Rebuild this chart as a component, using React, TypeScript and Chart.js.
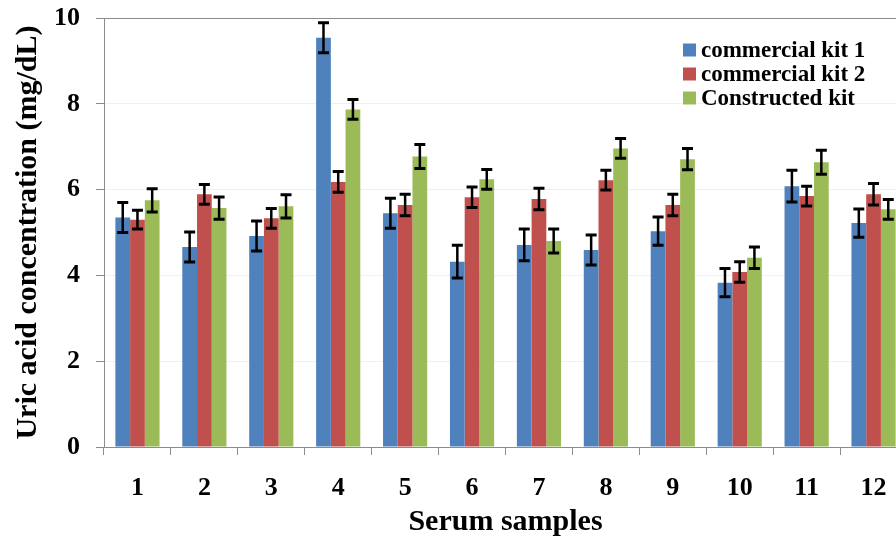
import React, { useEffect, useRef } from "react";
import { Chart, registerables } from "chart.js";

Chart.register(...registerables);

const categories = ["1", "2", "3", "4", "5", "6", "7", "8", "9", "10", "11", "12"];
const seriesNames = ["commercial kit 1", "commercial kit 2", "Constructed kit"];
const kit1 = [5.35, 4.66, 4.92, 9.54, 5.45, 4.32, 4.71, 4.59, 5.03, 3.83, 6.08, 5.22];
const kit2 = [5.3, 5.89, 5.33, 6.18, 5.64, 5.82, 5.78, 6.22, 5.64, 4.08, 5.85, 5.89];
const constructed = [5.75, 5.57, 5.61, 7.87, 6.77, 6.24, 4.8, 6.96, 6.71, 4.41, 6.64, 5.54];
const kit1Err = [0.35, 0.35, 0.35, 0.35, 0.35, 0.38, 0.37, 0.35, 0.33, 0.33, 0.37, 0.33];
const kit2Err = [0.22, 0.23, 0.23, 0.24, 0.25, 0.24, 0.25, 0.23, 0.25, 0.24, 0.23, 0.25];
const constructedErr = [0.27, 0.26, 0.27, 0.23, 0.28, 0.23, 0.28, 0.23, 0.25, 0.25, 0.28, 0.23];
const yTicks = [0, 2, 4, 6, 8, 10];
const xTitle = "Serum samples";
const yTitle = "Uric acid concentration (mg/dL)";

const colors = ["#4F81BD", "#C0504D", "#9BBB59"];
const FONT = "'Liberation Serif', 'Times New Roman', serif";

const errorBarPlugin = {
  id: "errorBars",
  afterDatasetsDraw(chart: any) {
    const { ctx } = chart;
    const yScale = chart.scales.y;
    chart.data.datasets.forEach((ds: any, i: number) => {
      const meta = chart.getDatasetMeta(i);
      const errs = ds.errors as number[];
      meta.data.forEach((bar: any, j: number) => {
        const v = ds.data[j];
        const e = errs[j];
        const x = bar.x;
        const yTop = yScale.getPixelForValue(v + e);
        const yBot = yScale.getPixelForValue(v - e);
        ctx.save();
        ctx.strokeStyle = "#000";
        ctx.lineWidth = 2.5;
        ctx.beginPath();
        ctx.moveTo(x, yTop);
        ctx.lineTo(x, yBot);
        ctx.stroke();
        ctx.lineWidth = 3;
        ctx.beginPath();
        ctx.moveTo(x - 5.5, yTop);
        ctx.lineTo(x + 5.5, yTop);
        ctx.moveTo(x - 5.5, yBot);
        ctx.lineTo(x + 5.5, yBot);
        ctx.stroke();
        ctx.restore();
      });
    });
  },
};

const legendPlugin = {
  id: "insideLegend",
  afterDraw(chart: any) {
    const { ctx } = chart;
    ctx.save();
    ctx.font = `bold 23px ${FONT}`;
    ctx.textBaseline = "middle";
    ctx.textAlign = "left";
    chart.data.datasets.forEach((ds: any, i: number) => {
      const cy = 50 + i * 24;
      ctx.fillStyle = ds.backgroundColor;
      ctx.fillRect(683, cy - 6.5, 13, 13);
      ctx.fillStyle = "#000";
      ctx.fillText(ds.label, 701, cy + 1);
    });
    ctx.restore();
  },
};

export default function App() {
  const ref = useRef<HTMLCanvasElement | null>(null);
  useEffect(() => {
    if (!ref.current) return;
    const values = [kit1, kit2, constructed];
    const errs = [kit1Err, kit2Err, constructedErr];
    const chart = new Chart(ref.current, {
      type: "bar",
      data: {
        labels: categories,
        datasets: seriesNames.map((name, i) => ({
          label: name,
          data: values[i],
          errors: errs[i],
          backgroundColor: colors[i],
          borderWidth: 0,
          barPercentage: 1,
          categoryPercentage: 0.66,
        })) as any,
      },
      options: {
        animation: false,
        responsive: false,
        maintainAspectRatio: false,
        layout: { padding: { left: 0, top: 18, right: 23, bottom: 0 } },
        plugins: {
          legend: { display: false },
          tooltip: { enabled: false },
        },
        scales: {
          x: {
            afterFit(scale: any) {
              scale.height = 99;
              scale.paddingLeft = 0;
              scale.paddingRight = 0;
            },
            grid: {
              display: true,
              drawOnChartArea: false,
              drawTicks: true,
              tickLength: 8,
              tickColor: "#8c8c8c",
              offset: true,
            },
            border: { color: "#8c8c8c", width: 1 },
            ticks: {
              color: "#000",
              padding: 18,
              font: { family: FONT, size: 26, weight: "bold" },
              maxRotation: 0,
              autoSkip: false,
            },
            title: {
              display: true,
              text: xTitle,
              color: "#000",
              font: { family: FONT, size: 30, weight: "bold" },
              padding: { top: 0, bottom: 6 },
            },
          },
          y: {
            min: 0,
            max: 10,
            afterFit(scale: any) {
              scale.width = 104;
              scale.paddingTop = 0;
              scale.paddingBottom = 0;
            },
            afterBuildTicks(scale: any) {
              scale.ticks = yTicks.map((v) => ({ value: v }));
            },
            grid: {
              color: (c: any) => (c.tick && c.tick.value === 10 ? "#8c8c8c" : "#f0f0f0"),
              tickColor: "#8c8c8c",
              tickLength: 8,
            },
            border: { color: "#8c8c8c", width: 1 },
            ticks: {
              color: "#000",
              padding: 16,
              font: { family: FONT, size: 26, weight: "bold" },
            },
            title: {
              display: true,
              text: yTitle,
              color: "#000",
              font: { family: FONT, size: 30, weight: "bold" },
              padding: { top: 10, bottom: 0 },
            },
          },
        },
      },
      plugins: [errorBarPlugin, legendPlugin],
    });
    return () => chart.destroy();
  }, []);

  return (
    <div
      style={{
        position: "fixed",
        left: 0,
        top: 0,
        width: 896,
        height: 546,
        overflow: "hidden",
        background: "#fff",
      }}
    >
      <canvas ref={ref} width={930} height={546} style={{ width: 930, height: 546, display: "block" }} />
    </div>
  );
}
